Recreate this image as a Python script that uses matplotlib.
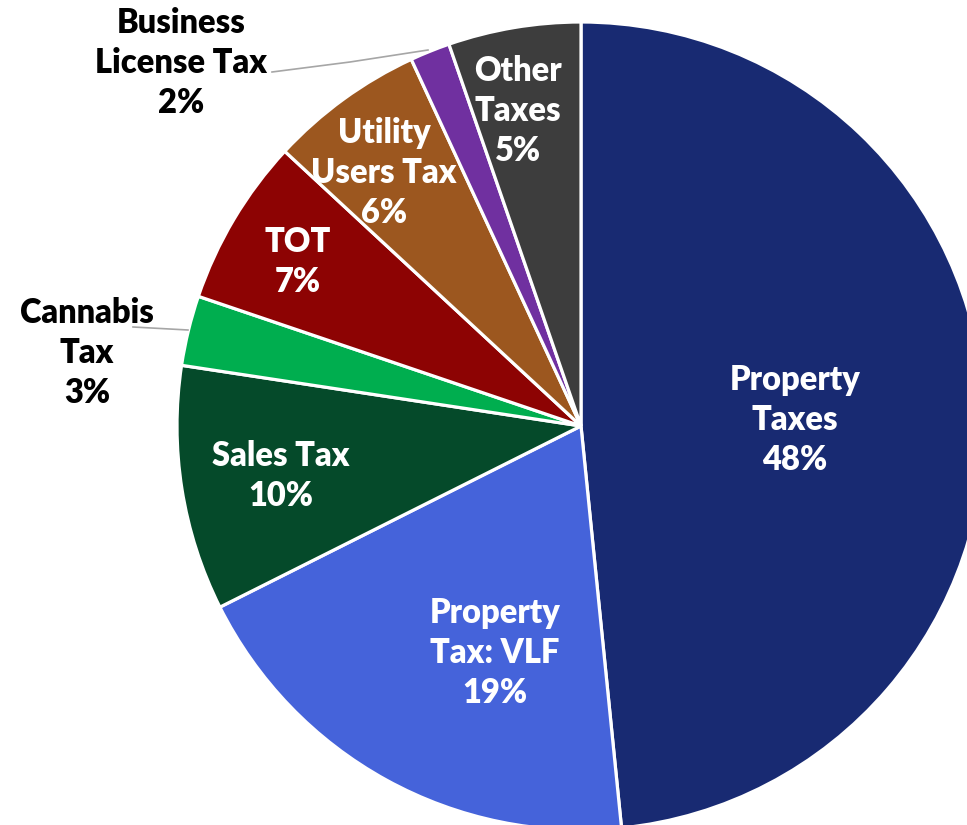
import matplotlib
matplotlib.use("Agg")
import matplotlib.pyplot as plt

categories = ["Property\nTaxes", "Property\nTax: VLF", "Sales Tax", "Cannabis\nTax", "TOT",
              "Utility\nUsers Tax", "Business\nLicense Tax", "Other\nTaxes"]
shares = [48.4, 19.2, 9.8, 2.8, 6.7, 6.2, 1.6, 5.3]
colors = ["#182A72", "#4563DA", "#054A2A", "#00AE4F", "#8D0303", "#9C571F", "#7030A0", "#3D3D3D"]

W, H = 967, 825
fig = plt.figure(figsize=(W / 100, H / 100), dpi=100)
ax = fig.add_axes([0, 0, 1, 1])

cx, cy, r = 581, 426, 404
ax.pie(shares, colors=colors, startangle=90, counterclock=False,
       center=(cx, H - cy), radius=r,
       wedgeprops=dict(edgecolor="white", linewidth=2.3))
ax.set_xlim(0, W)
ax.set_ylim(0, H)
ax.set_aspect("equal")
ax.axis("off")

# label anchor points in pixel coordinates (from top-left), text colour
label_pos = [
    (795, 420, "white"),
    (495, 653, "white"),
    (281, 476, "white"),
    (87, 353, "black"),
    (298, 262, "white"),
    (384, 173, "white"),
    (181, 63, "black"),
    (518, 111, "white"),
]

for name, val, (x, y, c) in zip(categories, shares, label_pos):
    ax.text(x, H - y, f"{name}\n{round(val)}%", ha="center", va="center",
            color=c, fontsize=23.5, fontweight="heavy", family="Lato",
            linespacing=1.32)

# leader lines for the labels placed outside the pie
ax.plot([272, 350, 428], [H - 72, H - 62, H - 50], color="#A6A6A6", lw=1.2)
ax.plot([133, 188], [H - 327, H - 330], color="#A6A6A6", lw=1.2)

fig.savefig("out.png", dpi=100)
